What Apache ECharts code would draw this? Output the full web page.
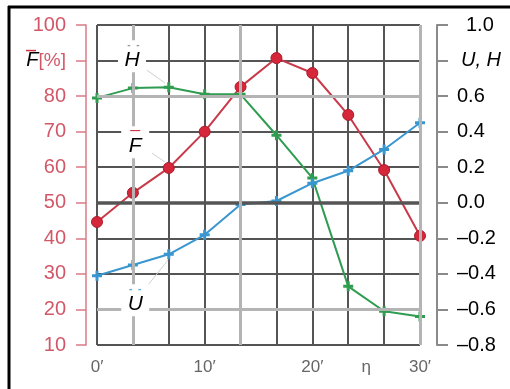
<!DOCTYPE html>
<html><head><meta charset="utf-8">
<script src="https://cdn.jsdelivr.net/npm/echarts@6/dist/echarts.min.js"></script>
<style>html,body{margin:0;padding:0;background:#fff}#c{width:510px;height:389px}</style>
</head><body><div id="c"></div>
<script>
// x positions (minutes of arc)
const xMinutes = [0, 10/3, 20/3, 10, 40/3, 50/3, 20, 70/3, 80/3, 30];
// F-bar [%] (left axis)
const fValues = [44.6, 52.8, 59.8, 70, 82.6, 90.7, 86.5, 74.7, 59.2, 40.7];
// H-bar (right axis)
const hValues = [0.59, 0.645, 0.65, 0.61, 0.61, 0.38, 0.14, -0.47, -0.61, -0.64];
// U-bar (right axis)
const uValues = [-0.41, -0.35, -0.29, -0.18, -0.01, 0.01, 0.11, 0.18, 0.30, 0.45];
const xTickLabels = {0: "0\u2032", 10: "10\u2032", 20: "20\u2032", 25: "\u03b7", 30: "30\u2032"};

const FONT = "Liberation Sans, Arial, sans-serif";
const pairs = (vals) => vals.map((v, i) => [xMinutes[i], v]);
const crossPath = 'path://M-1.2,-4L1.2,-4L1.2,-1.2L4,-1.2L4,1.2L1.2,1.2L1.2,4L-1.2,4L-1.2,1.2L-4,1.2L-4,-1.2L-1.2,-1.2Z';

const chart = echarts.init(document.getElementById('c'), null, {renderer: 'canvas'});
const option = {
  animation: false,
  backgroundColor: '#fff',
  grid: {left: 97, right: 90, top: 25, bottom: 44},
  xAxis: [
    {type: 'value', min: 0, max: 30, interval: 10/3, position: 'bottom',
     axisLine: {show: false}, axisTick: {show: false}, axisLabel: {show: false},
     splitLine: {show: true, lineStyle: {color: '#555', width: 2}}},
    {type: 'value', min: 0, max: 30, interval: 5, position: 'bottom',
     axisLine: {show: false}, axisTick: {show: false}, splitLine: {show: false},
     axisLabel: {margin: 14, color: '#666', fontSize: 17, fontFamily: FONT,
       formatter: v => xTickLabels[Math.round(v)] !== undefined && Math.abs(v - Math.round(v)) < 1e-6 ? xTickLabels[Math.round(v)] : ''}}
  ],
  yAxis: [
    {type: 'value', min: 10, max: 100, interval: 10, position: 'left', offset: 11,
     axisLine: {show: true, onZero: false, lineStyle: {color: '#dc7a86', width: 1.5}},
     axisTick: {show: true, length: 10, lineStyle: {color: '#dc7a86', width: 1.5}},
     splitLine: {show: true, lineStyle: {color: '#555', width: 2}},
     axisLabel: {margin: 20, color: '#d25868', fontSize: 20, fontFamily: FONT,
       formatter: v => Math.round(v) === 90 ? '{f|F}{p|[%]}' : String(Math.round(v)),
       rich: {f: {color: '#000', fontStyle: 'italic', fontSize: 20, fontFamily: FONT},
              p: {color: '#d25868', fontSize: 19, fontFamily: FONT}}}},
    {type: 'value', min: -0.8, max: 1.0, interval: 0.2, position: 'right', offset: 17,
     axisLine: {show: true, onZero: false, lineStyle: {color: '#8a8a8a', width: 2}},
     axisTick: {show: true, length: 11, lineStyle: {color: '#8a8a8a', width: 2}},
     splitLine: {show: false},
     axisLabel: {margin: 20, color: '#000', fontSize: 20, fontFamily: FONT,
       formatter: v => {
         if (Math.abs(v - 0.8) < 1e-6) return '{uh|U, H}';
         if (Math.abs(v - 1.0) < 1e-6) return '{sh|1.0}';
         if (Math.abs(v) < 1e-6) return '0.0';
         return v < 0 ? '\u2013' + Math.abs(v).toFixed(1) : v.toFixed(1);
       },
       rich: {uh: {color: '#000', fontStyle: 'italic', fontSize: 20, fontFamily: FONT, padding: [0, 0, 0, 4]},
              sh: {color: '#000', fontSize: 20, fontFamily: FONT, padding: [0, 0, 0, 9]}}}}
  ],
  series: [
    {name: 'gridMarks', type: 'line', data: [], z: 1, yAxisIndex: 0, silent: true,
     markLine: {silent: true, symbol: 'none', label: {show: false}, animation: false,
       data: [
         {yAxis: 50, lineStyle: {color: '#555', width: 3.5, type: 'solid'}},
         {yAxis: 80, lineStyle: {color: '#b4b4b4', width: 3, type: 'solid'}},
         {yAxis: 20, lineStyle: {color: '#b4b4b4', width: 3, type: 'solid'}},
         {xAxis: 10/3, lineStyle: {color: '#b4b4b4', width: 3, type: 'solid'}},
         {xAxis: 40/3, lineStyle: {color: '#b4b4b4', width: 3, type: 'solid'}},
         {xAxis: 30, lineStyle: {color: '#b4b4b4', width: 3, type: 'solid'}}
       ]}},
    {name: 'labels', type: 'line', data: [], z: 2, yAxisIndex: 0, silent: true,
     markLine: {silent: true, symbol: 'none', label: {show: false}, animation: false,
       lineStyle: {color: '#d0d0d0', width: 1, type: 'solid'},
       data: [
         [{coord: [4.64, 87.3]}, {coord: [6.3, 83.7]}],
         [{coord: [5.1, 64]}, {coord: [6.3, 61.5]}],
         [{coord: [4.74, 26.9]}, {coord: [6.6, 33.9]}]
       ]},
     markPoint: {silent: true, animation: false, symbol: 'rect', symbolSize: [28, 32],
       itemStyle: {color: '#fff'},
       label: {show: true, position: 'inside', fontFamily: FONT,
         rich: {
           oh: {color: '#999', fontSize: 10, lineHeight: 7, fontWeight: 'bold'},
           of: {color: '#d03040', fontSize: 10, lineHeight: 7, fontWeight: 'bold'},
           ou: {color: '#5aa8d8', fontSize: 10, lineHeight: 7, fontWeight: 'bold'},
           t: {color: '#000', fontSize: 21, fontStyle: 'italic', lineHeight: 22, fontFamily: FONT}
         }},
       data: [
         {coord: [3.25, 91.2], label: {formatter: '{oh| -  -}\n{t|H}'}},
         {coord: [3.55, 67.0], label: {formatter: '{of|\u2014}\n{t|F}'}},
         {coord: [3.55, 22.6], label: {formatter: '{ou|-  -}\n{t|U}'}}
       ]}},
    {name: 'F', type: 'line', yAxisIndex: 0, z: 3, data: pairs(fValues),
     lineStyle: {color: '#c83a4a', width: 2},
     symbol: 'circle', symbolSize: 11,
     itemStyle: {color: '#d6263a', borderColor: '#a81c2c', borderWidth: 1}},
    {name: 'H', type: 'line', yAxisIndex: 1, z: 3, data: pairs(hValues),
     lineStyle: {color: '#2f9c50', width: 2},
     symbol: crossPath, symbolSize: 10,
     itemStyle: {color: '#2f9c50'}},
    {name: 'U', type: 'line', yAxisIndex: 1, z: 3, data: pairs(uValues),
     lineStyle: {color: '#3a96cf', width: 2},
     symbol: crossPath, symbolSize: 10,
     itemStyle: {color: '#3a96cf'}}
  ]
};
chart.setOption(option);

const y90 = chart.convertToPixel({yAxisIndex: 0}, 90);
chart.setOption({
  graphic: [
    {type: 'line', shape: {x1: 8, y1: 7, x2: 510, y2: 7}, style: {stroke: '#000', lineWidth: 3}, z: 100},
    {type: 'line', shape: {x1: 9, y1: 6, x2: 9, y2: 389}, style: {stroke: '#000', lineWidth: 3}, z: 100},
    {type: 'line', shape: {x1: 26, y1: y90 - 10, x2: 36, y2: y90 - 10}, style: {stroke: '#d03040', lineWidth: 1.5}, z: 100}
  ]
});
</script></body></html>
